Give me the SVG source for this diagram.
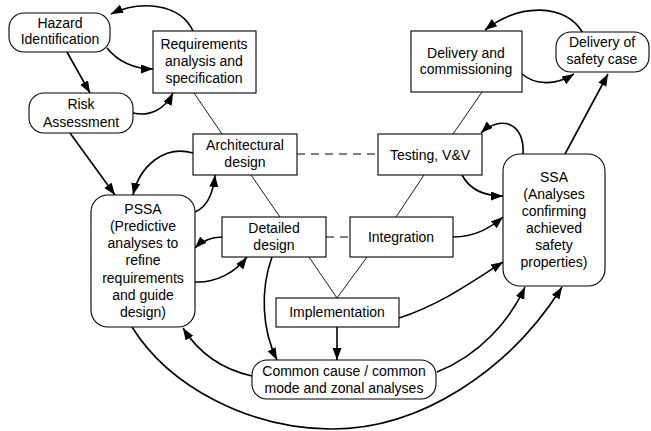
<svg xmlns="http://www.w3.org/2000/svg" width="651" height="431" viewBox="0 0 651 431">
<defs>
<marker id="ah" markerUnits="userSpaceOnUse" markerWidth="13" markerHeight="10" refX="12" refY="4.5" orient="auto">
<path d="M0,0 L12,4.5 L0,9 z" fill="#000"/>
</marker>
<style>
.box{fill:#fff;stroke:#000;stroke-width:1.1}
.t{font-family:"Liberation Sans",Arial,sans-serif;font-size:14px;text-anchor:middle;fill:#000}
.thin{fill:none;stroke:#000;stroke-width:0.9}
.dash{fill:none;stroke:#000;stroke-width:1;stroke-dasharray:8,6}
.arr{fill:none;stroke:#000;stroke-width:1.6;marker-end:url(#ah)}
</style>
</defs>
<rect width="651" height="431" fill="#fff"/>
<g id="connectors">
<line class="thin" x1="194" y1="93" x2="222" y2="134"/>
<line class="thin" x1="251" y1="175" x2="280" y2="217"/>
<line class="thin" x1="309" y1="257" x2="337" y2="298"/>
<line class="thin" x1="337" y1="298" x2="367" y2="257"/>
<line class="thin" x1="396" y1="217" x2="424" y2="175"/>
<line class="thin" x1="453" y1="134" x2="482" y2="92"/>
<line class="dash" x1="297" y1="154" x2="378" y2="154"/>
<line class="dash" x1="326" y1="237" x2="350" y2="237"/>
<path class="arr" d="M193,31 C180,3 140,0 111,14"/>
<path class="arr" d="M107,48 C118,62 135,69 153,69"/>
<path class="arr" d="M67,52 L90,93"/>
<path class="arr" d="M133,113 C150,117 165,109 173,93"/>
<path class="arr" d="M70,133 L115,195"/>
<path class="arr" d="M193,153 C165,145 140,165 133,195"/>
<path class="arr" d="M195,212 C207,207 213,195 215,175"/>
<path class="arr" d="M222,237 C210,237 202,241 195,248"/>
<path class="arr" d="M195,282 C215,283 235,273 247,257"/>
<path class="arr" d="M272,257 C260,290 262,330 277,360"/>
<path class="arr" d="M337,327 L337,360"/>
<path class="arr" d="M252,376 C225,370 200,355 183,328"/>
<path class="arr" d="M132,327 C170,388 250,428 330,429 C420,430 510,370 562,287"/>
<path class="arr" d="M437,372 C480,355 510,320 525,287"/>
<path class="arr" d="M399,318 C440,305 475,280 503,262"/>
<path class="arr" d="M453,237 C475,237 490,228 503,217"/>
<path class="arr" d="M462,175 C470,190 485,196 503,196"/>
<path class="arr" d="M523,154 C525,122 500,115 481,133"/>
<path class="arr" d="M565,154 L608,74"/>
<path class="arr" d="M583,33 C565,3 520,3 485,30"/>
<path class="arr" d="M522,74 C535,85 555,86 574,74"/>
</g>
<g id="hazard">
<rect class="box" x="9" y="13" width="101" height="39" rx="15"/>
<text class="t" x="60" y="28">Hazard</text>
<text class="t" x="60" y="44">Identification</text>
</g>
<g id="requirements">
<rect class="box" x="153" y="31" width="103" height="62"/>
<text class="t" x="204" y="49">Requirements</text>
<text class="t" x="204" y="66">analysis and</text>
<text class="t" x="204" y="83">specification</text>
</g>
<g id="risk">
<rect class="box" x="29" y="93" width="104" height="40" rx="15"/>
<text class="t" x="81" y="109">Risk</text>
<text class="t" x="81" y="127">Assessment</text>
</g>
<g id="architectural">
<rect class="box" x="193" y="134" width="104" height="41"/>
<text class="t" x="245" y="150">Architectural</text>
<text class="t" x="245" y="167">design</text>
</g>
<g id="testing">
<rect class="box" x="378" y="134" width="104" height="41"/>
<text class="t" x="430" y="160">Testing, V&amp;V</text>
</g>
<g id="detailed">
<rect class="box" x="222" y="217" width="104" height="40"/>
<text class="t" x="274" y="233">Detailed</text>
<text class="t" x="274" y="250">design</text>
</g>
<g id="integration">
<rect class="box" x="350" y="217" width="103" height="40"/>
<text class="t" x="401" y="242">Integration</text>
</g>
<g id="implementation">
<rect class="box" x="276" y="298" width="123" height="29"/>
<text class="t" x="337" y="317">Implementation</text>
</g>
<g id="common">
<rect class="box" x="252" y="360" width="184" height="39" rx="15"/>
<text class="t" x="344" y="376">Common cause / common</text>
<text class="t" x="344" y="393">mode and zonal analyses</text>
</g>
<g id="pssa">
<rect class="box" x="91" y="195" width="104" height="132" rx="17"/>
<text class="t" x="143" y="214">PSSA</text>
<text class="t" x="143" y="231">(Predictive</text>
<text class="t" x="143" y="248">analyses to</text>
<text class="t" x="143" y="265">refine</text>
<text class="t" x="143" y="283">requirements</text>
<text class="t" x="143" y="300">and guide</text>
<text class="t" x="143" y="317">design)</text>
</g>
<g id="ssa">
<rect class="box" x="503" y="154" width="102" height="132" rx="17"/>
<text class="t" x="554" y="182">SSA</text>
<text class="t" x="554" y="199">(Analyses</text>
<text class="t" x="554" y="216">confirming</text>
<text class="t" x="554" y="233">achieved</text>
<text class="t" x="554" y="250">safety</text>
<text class="t" x="554" y="267">properties)</text>
</g>
<g id="delivery">
<rect class="box" x="411" y="31" width="111" height="61"/>
<text class="t" x="466" y="58">Delivery and</text>
<text class="t" x="466" y="74">commissioning</text>
</g>
<g id="safetycase">
<rect class="box" x="556" y="32" width="93" height="40" rx="15"/>
<text class="t" x="602" y="47">Delivery of</text>
<text class="t" x="602" y="64">safety case</text>
</g>
</svg>
